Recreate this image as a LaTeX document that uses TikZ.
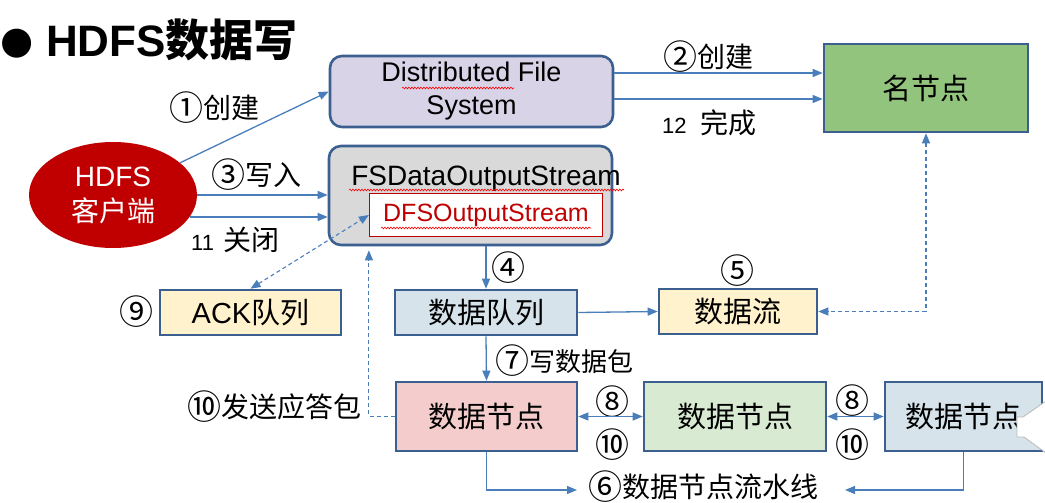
\documentclass[tikz,border=0pt]{standalone}
\usepackage{fontspec}
\setmainfont{Liberation Sans}
\newfontfamily\cjk{Noto Sans CJK SC}
\newfontfamily\dejavu{DejaVu Sans}
\usetikzlibrary{arrows.meta,calc,decorations.pathmorphing,shapes.geometric}
\definecolor{bord}{HTML}{3B5F8E}
\definecolor{arrc}{HTML}{4A7EBB}
\definecolor{dfsc}{HTML}{D9D3E8}
\definecolor{nnc}{HTML}{93C47D}
\definecolor{fsc}{HTML}{D9D9D9}
\definecolor{yelc}{HTML}{FFF2CC}
\definecolor{bluec}{HTML}{D6E3EA}
\definecolor{pinkc}{HTML}{F4CCCC}
\definecolor{greenc}{HTML}{D9EAD3}
\definecolor{redc}{HTML}{C00000}
\newcommand\cnum[1]{\raisebox{-2pt}{\fontsize{34}{34}\selectfont #1}}
\begin{document}
\begin{tikzpicture}[x=1pt,y=-1pt,
  box/.style={draw=bord,line width=2.6pt,inner sep=0pt,font=\cjk\fontsize{29}{29}\selectfont},
  lab/.style={inner sep=0pt,font=\cjk\fontsize{28}{28}\selectfont},
  arw/.style={draw=arrc,line width=1.3pt,-{Triangle[length=10pt,width=8pt]}},
  darw/.style={draw=arrc,line width=1.3pt,{Triangle[length=10pt,width=8pt]}-{Triangle[length=10pt,width=8pt]}},
  dsh/.style={dash pattern=on 4pt off 3pt,line width=1.1pt},
  wavy/.style={draw=red,line width=0.6pt,decorate,decoration={snake,amplitude=0.9pt,segment length=3pt}}
]
\useasboundingbox[fill=white] (0,0) rectangle (1045,503);

% title
\node[inner sep=0pt,font=\dejavu\fontsize{38}{38}\selectfont] (bullet) at (17,44) {●};
\node[inner sep=0pt,anchor=base west,font=\fontsize{44}{44}\selectfont\bfseries] (title) at (46,57) {HDFS{\cjk\bfseries 数据写}};

% boxes
\node[box,rounded corners=12pt,fill=dfsc,minimum width=283pt,minimum height=71pt,align=center,font=\fontsize{27}{33}\selectfont] (dfs) at (471.5,91.5) {Distributed File\\System};
\node[box,fill=nnc,minimum width=204pt,minimum height=88pt] (nn) at (926,88) {名节点};
\node[ellipse,fill=redc,minimum width=168pt,minimum height=106pt,inner sep=0pt,align=center,text=white,font=\fontsize{28}{35}\selectfont] (client) at (113,195) {HDFS\\{\cjk 客户端}};
\node[box,rounded corners=12pt,fill=fsc,minimum width=283pt,minimum height=99pt] (fs) at (470.5,195.5) {};
\node[inner sep=0pt,font=\fontsize{28}{28}\selectfont] (fstxt) at (486,179) {FSDataOutputStream};
\node[draw=redc,line width=1.2pt,fill=white,minimum width=233pt,minimum height=43pt,inner sep=0pt,text=redc,font=\fontsize{25}{25}\selectfont] (dfsos) at (486,215) {DFSOutputStream};
\node[box,fill=yelc,minimum width=181pt,minimum height=45pt] (ack) at (250.5,312.5) {{\rmfamily ACK}队列};
\node[box,fill=bluec,minimum width=182pt,minimum height=45pt] (dq) at (486,312.5) {数据队列};
\node[box,fill=yelc,minimum width=158pt,minimum height=45pt] (sl) at (738,311.5) {数据流};
\node[box,fill=pinkc,minimum width=181pt,minimum height=69pt] (dn1) at (486.5,416.5) {数据节点};
\node[box,fill=greenc,minimum width=182pt,minimum height=69pt] (dn2) at (735,416.5) {数据节点};
\node[box,fill=bluec,minimum width=157pt,minimum height=69pt] (dn3) at (963.5,416.5) {数据节点};
\draw[fill=white,draw=gray!55,line width=0.8pt] (1046,401) -- (1023,417) -- (1017,417) -- (1017,437) -- (1024,437) -- (1046,453);

% spell-check underlines
\draw[wavy] (402,88) -- (514,88);
\draw[wavy] (349,190) -- (624,190);
\draw[wavy] (381,228) -- (591,228);

% labels
\node[lab] (l1) at (214,108) {\cnum{①}创建};
\node[lab] (l3) at (256,175) {\cnum{③}写入};
\node[lab,anchor=west] (l11) at (191,240) {{\rmfamily\fontsize{22}{22}\selectfont 11\hspace{9pt}}关闭};
\node[lab] (l2) at (708,57) {\cnum{②}创建};
\node[lab,anchor=west] (l12) at (662,123) {{\rmfamily\fontsize{22}{22}\selectfont 12\hspace{14pt}}完成};
\node[lab] (l4) at (508,268) {\cnum{④}};
\node[lab] (l5) at (737,271) {\cnum{⑤}};
\node[lab] (l9) at (136,312) {\cnum{⑨}};
\node[lab,anchor=west,font=\cjk\fontsize{26}{26}\selectfont] (l7) at (495,361) {\cnum{⑦}写数据包};
\node[lab] (l10) at (274,407) {\cnum{⑩}发送应答包};
\node[lab] (l8a) at (612,402) {\cnum{⑧}};
\node[lab] (l10a) at (612,445) {\cnum{⑩}};
\node[lab] (l8b) at (852,401) {\cnum{⑧}};
\node[lab] (l10b) at (852,445) {\cnum{⑩}};
\node[lab,anchor=west] (l6) at (588,487) {\cnum{⑥}数据节点流水线};

% connectors
\draw[arw] (client) -- (dfs.west);
\draw[arw] (client.east) -- (client.east -| fs.west);
\draw[arw] (client.-16) -- (client.-16 -| fs.west);
\coordinate (a2) at ($(dfs.east)+(0,-18.5)$);
\coordinate (a12) at ($(dfs.east)+(0,7.5)$);
\draw[arw] (a2) -- (a2 -| nn.west);
\draw[arw] (a12) -- (a12 -| nn.west);
\draw[arw] (dq.north |- fs.south) -- (dq.north);
\draw[arw] (dq.south) -- (dn1.north);
\draw[arw] (dq.east) -- (sl.west);
\draw[darw] (dn1.east) -- (dn2.west);
\draw[darw] (dn2.east) -- (dn3.west);
\coordinate (p6l) at (577,490);
\coordinate (p6r) at (845,490);
\draw[arw] (dn1.south) |- (p6l);
\draw[arw] (dn3.south) |- (p6r);
\draw[darw,dsh] (ack.north) -- (dfsos.west);
\coordinate (fsb) at ($(dfsos.west |- fs.south)+(0,4)$);
\draw[arw,dsh] (dn1.west) -| (fsb);
\draw[darw,dsh] (nn.south) |- (sl.east);
\end{tikzpicture}
\end{document}
